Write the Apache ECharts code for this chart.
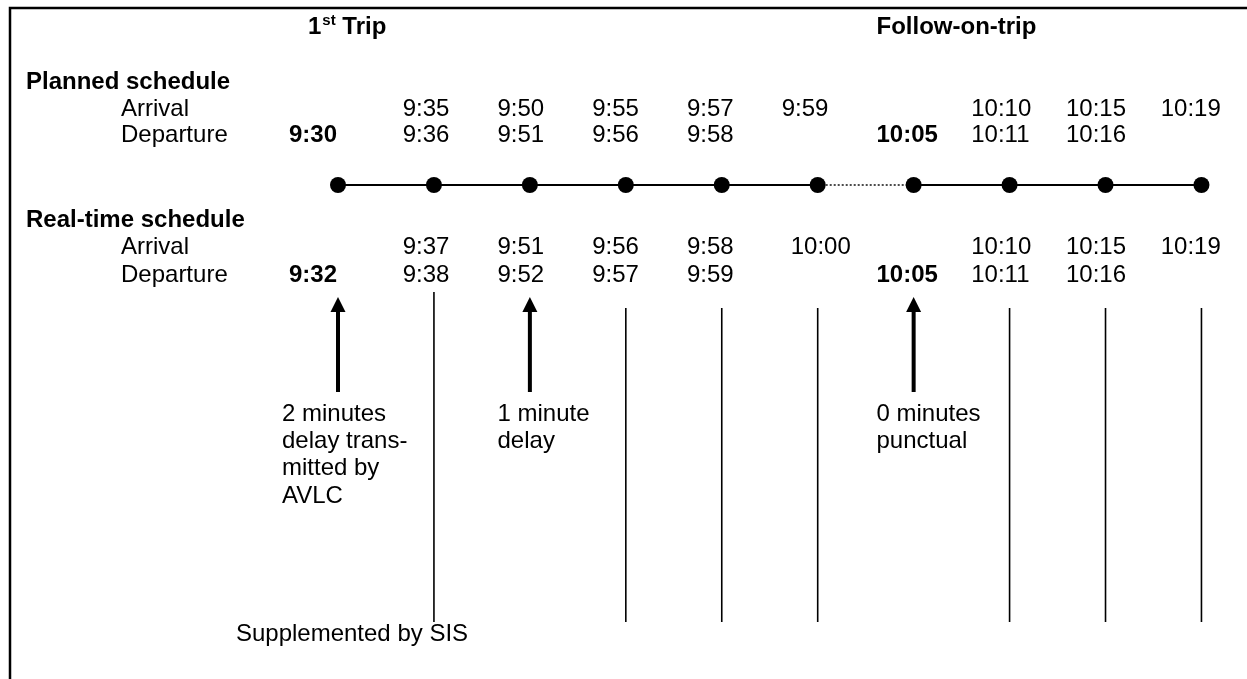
<!DOCTYPE html>
<html><head><meta charset="utf-8">
<script src="https://cdn.jsdelivr.net/npm/echarts@6/dist/echarts.min.js"></script>
<style>html,body{margin:0;padding:0;background:#fff}#c{width:1247px;height:679px}</style>
</head><body><div id="c"></div>
<script>
// ---------------- data ----------------
const stops = [0, 1, 2, 3, 4, 5, 6, 7, 8, 9];
const tripNames = ['1st Trip', 'Follow-on-trip'];
const tripFirstStop = [0, 6];
const trip1Stops = [0, 1, 2, 3, 4, 5];
const trip2Stops = [6, 7, 8, 9];
const turnaroundStops = [5, 6];
const plannedArrival   = ['', '9:35', '9:50', '9:55', '9:57', '9:59', '', '10:10', '10:15', '10:19'];
const plannedDeparture = ['9:30', '9:36', '9:51', '9:56', '9:58', '', '10:05', '10:11', '10:16', ''];
const realArrival      = ['', '9:37', '9:51', '9:56', '9:58', '10:00', '', '10:10', '10:15', '10:19'];
const realDeparture    = ['9:32', '9:38', '9:52', '9:57', '9:59', '', '10:05', '10:11', '10:16', ''];
const sectionNames = ['Planned schedule', 'Real-time schedule'];
const rowNames = ['Arrival', 'Departure'];
const avlcStops = [0, 2, 6];
const avlcNotes = [['2 minutes', 'delay trans-', 'mitted by', 'AVLC'], ['1 minute', 'delay'], ['0 minutes', 'punctual']];
const sisStops = [1, 3, 4, 5, 7, 8, 9];
const sisNote = 'Supplemented by SIS';
const sisNoteStop = 1;

// ---------------- layout ----------------
const W = 1247, H = 679;
const STOP0 = 338, STOP_STEP = 95.94;   // stop axis
const TAB0 = 308, TAB_STEP = 94.75;     // text tab-stop axis
const ROW = {title: 27, pSec: 82.5, pArr: 109.5, pDep: 135.5, route: 185, rSec: 220.5, rArr: 247.5, rDep: 275,
  arrowTip: 297, arrowBase: 312, arrowEnd: 392, sisTopFirst: 292, sisTop: 308, sisEnd: 622,
  note0: 414, noteStep: 27.4, sisNote: 634};
const FONT = "'Liberation Sans', Arial, sans-serif";
const FS = 24;
const noteShift = [-26, 0, 0];

const tabItems = [];
const stopItems = [];
[[plannedArrival, 'pArr'], [plannedDeparture, 'pDep'], [realArrival, 'rArr'], [realDeparture, 'rDep']].forEach(([arr, row]) => {
  arr.forEach((t, i) => {
    if (!t) return;
    const bold = tripFirstStop.includes(i) && row.endsWith('Dep');
    if (i === 0) stopItems.push({x: i, y: ROW[row], text: t, bold, align: 'right', dx: -1});
    else tabItems.push({x: i, y: ROW[row], text: t, bold, dx: (row === 'rArr' && i === 5) ? 9 : 0});
  });
});
tripNames.forEach((name, k) => {
  const m = name.match(/^(\d+)(st|nd|rd|th) (.*)$/);
  const it = {x: tripFirstStop[k], y: ROW.title, bold: true, text: name};
  if (m) {
    it.text = '{n|' + m[1] + '}{s|' + m[2] + '}{n| ' + m[3] + '}';
    it.rich = {n: {fontSize: FS, fontWeight: 'bold', fontFamily: FONT, lineHeight: 27},
               s: {fontSize: 15, fontWeight: 'bold', fontFamily: FONT, verticalAlign: 'top', lineHeight: 27, padding: [0, 0, 0, 1]}};
  }
  tabItems.push(it);
});
avlcStops.forEach((s, k) => {
  avlcNotes[k].forEach((line, j) => {
    tabItems.push({x: s, y: ROW.note0 + j * ROW.noteStep, text: line, bold: false, dx: noteShift[k]});
  });
});
stopItems.push({x: sisNoteStop, y: ROW.sisNote, text: sisNote, bold: false, align: 'left', dx: -198});

function textRenderer(items) {
  return function (params, api) {
    const it = items[params.dataIndex];
    const p = api.coord([api.value(0), api.value(1)]);
    const style = {text: it.text, fill: '#000', align: it.align || 'left', verticalAlign: 'middle',
      fontSize: FS, fontFamily: FONT, fontWeight: it.bold ? 'bold' : 'normal'};
    if (it.rich) style.rich = it.rich;
    return {type: 'text', x: p[0] + (it.dx || 0), y: p[1], style};
  };
}

const chart = echarts.init(document.getElementById('c'), null, {renderer: 'canvas'});
const lineStyle = {color: '#000', width: 2, opacity: 1};
chart.setOption({
  animation: false,
  backgroundColor: '#fff',
  grid: {left: 0, right: 0, top: 0, bottom: 0, containLabel: false},
  xAxis: [
    {type: 'value', min: -STOP0 / STOP_STEP, max: (W - STOP0) / STOP_STEP, show: false},
    {type: 'value', min: -TAB0 / TAB_STEP, max: (W - TAB0) / TAB_STEP, show: false}
  ],
  yAxis: {type: 'value', min: 0, max: H, inverse: true, show: false},
  graphic: [
    {type: 'polyline', shape: {points: [[10, H], [10, 8], [W, 8]]}, style: {stroke: '#000', lineWidth: 2.5, fill: null}},
    {type: 'text', x: 26, y: ROW.pSec, style: {text: sectionNames[0], fontSize: FS, fontWeight: 'bold', fontFamily: FONT, fill: '#000', verticalAlign: 'middle'}},
    {type: 'text', x: 121, y: ROW.pArr, style: {text: rowNames[0], fontSize: FS, fontFamily: FONT, fill: '#000', verticalAlign: 'middle'}},
    {type: 'text', x: 121, y: ROW.pDep, style: {text: rowNames[1], fontSize: FS, fontFamily: FONT, fill: '#000', verticalAlign: 'middle'}},
    {type: 'text', x: 26, y: ROW.rSec, style: {text: sectionNames[1], fontSize: FS, fontWeight: 'bold', fontFamily: FONT, fill: '#000', verticalAlign: 'middle'}},
    {type: 'text', x: 121, y: ROW.rArr, style: {text: rowNames[0], fontSize: FS, fontFamily: FONT, fill: '#000', verticalAlign: 'middle'}},
    {type: 'text', x: 121, y: ROW.rDep, style: {text: rowNames[1], fontSize: FS, fontFamily: FONT, fill: '#000', verticalAlign: 'middle'}}
  ],
  series: [
    {type: 'line', data: trip1Stops.map(s => [s, ROW.route]), symbol: 'none', lineStyle, silent: true},
    {type: 'line', data: trip2Stops.map(s => [s, ROW.route]), symbol: 'none', lineStyle, silent: true},
    {type: 'line', data: turnaroundStops.map(s => [s, ROW.route]), symbol: 'none', lineStyle: {color: '#000', width: 1.4, type: [2, 2]}, silent: true},
    {type: 'scatter', data: stops.map(s => [s, ROW.route]), symbol: 'circle', symbolSize: 16, itemStyle: {color: '#000', opacity: 1}, silent: true, z: 5},
    {type: 'custom', xAxisIndex: 0, silent: true, data: sisStops.map(s => [s, 0]),
      renderItem: function (params, api) {
        const s = api.value(0);
        const top = s === sisNoteStop ? ROW.sisTopFirst : ROW.sisTop;
        const a = api.coord([s, top]), b = api.coord([s, ROW.sisEnd]);
        return {type: 'line', shape: {x1: a[0], y1: a[1], x2: b[0], y2: b[1]}, style: {stroke: '#000', lineWidth: 1.6}};
      }},
    {type: 'custom', xAxisIndex: 0, silent: true, data: avlcStops.map(s => [s, 0]),
      renderItem: function (params, api) {
        const s = api.value(0);
        const tip = api.coord([s, ROW.arrowTip]), base = api.coord([s, ROW.arrowBase]), end = api.coord([s, ROW.arrowEnd]);
        return {type: 'group', children: [
          {type: 'line', shape: {x1: base[0], y1: base[1] - 1, x2: end[0], y2: end[1]}, style: {stroke: '#000', lineWidth: 4}},
          {type: 'polygon', shape: {points: [[tip[0], tip[1]], [tip[0] - 7.5, base[1]], [tip[0] + 7.5, base[1]]]}, style: {fill: '#000'}}
        ]};
      }},
    {type: 'custom', xAxisIndex: 1, silent: true, data: tabItems.map(it => [it.x, it.y]), renderItem: textRenderer(tabItems)},
    {type: 'custom', xAxisIndex: 0, silent: true, data: stopItems.map(it => [it.x, it.y]), renderItem: textRenderer(stopItems)}
  ]
});
</script></body></html>
